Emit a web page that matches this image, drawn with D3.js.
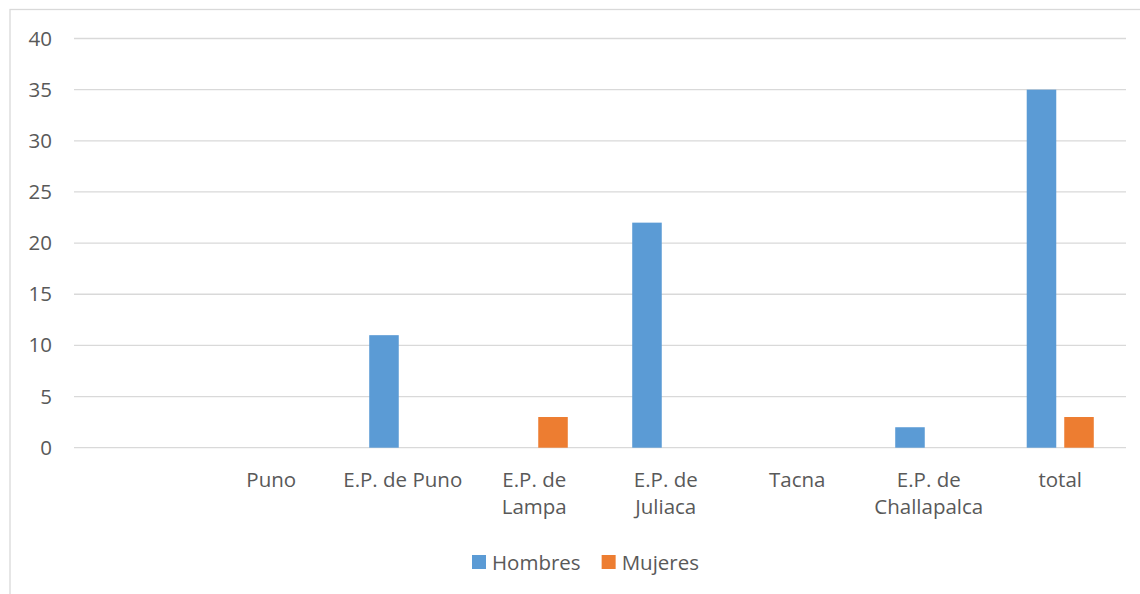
<!DOCTYPE html>
<html>
<head>
<meta charset="utf-8">
<script src="https://cdn.jsdelivr.net/npm/d3@7"></script>
<style>
  html, body { margin: 0; padding: 0; background: #fff; }
  svg { display: block; }
  text { font-family: "Open Sans", "Noto Sans", sans-serif; fill: #595959; }
</style>
</head>
<body>
<svg id="chart" width="1140" height="594"></svg>
<script>
const categories = ["", "Puno", "E.P. de Puno", "E.P. de Lampa", "E.P. de Juliaca", "Tacna", "E.P. de Challapalca", "total"];
const seriesNames = ["Hombres", "Mujeres"];
const hombres = [null, null, 11, null, 22, null, 2, 35];
const mujeres = [null, null, null, 3, null, null, null, 3];
const yTicks = [0, 5, 10, 15, 20, 25, 30, 35, 40];
const colors = ["#5b9bd5", "#ed7d31"];

const svg = d3.select("#chart");
const fontSize = 20.5;

// chart area border (clipped at right/bottom like the reference)
svg.append("rect")
  .attr("x", 10).attr("y", 9.5)
  .attr("width", 1200).attr("height", 700)
  .attr("fill", "none").attr("stroke", "#d9d9d9").attr("stroke-width", 1.3);

const plot = { left: 74, right: 1126, top: 38.5, bottom: 447.7 };

const x = d3.scaleBand().domain(d3.range(categories.length))
  .range([plot.left, plot.right]).paddingInner(0).paddingOuter(0);
const x1 = d3.scaleBand().domain(seriesNames)
  .range([x.bandwidth() * 0.245, x.bandwidth() * 0.755]).paddingInner(0.213).paddingOuter(0);
const y = d3.scaleLinear().domain([0, 40]).range([plot.bottom, plot.top]);

// gridlines
svg.append("g").selectAll("line").data(yTicks).join("line")
  .attr("x1", plot.left).attr("x2", plot.right)
  .attr("y1", d => y(d)).attr("y2", d => y(d))
  .attr("stroke", "#d9d9d9").attr("stroke-width", 1.3);

// y axis via d3.axisLeft
const yAxis = svg.append("g").attr("transform", `translate(${plot.left},0)`)
  .call(d3.axisLeft(y).tickValues(yTicks).tickSize(0).tickPadding(22));
yAxis.select(".domain").remove();
yAxis.selectAll("text").style("font-size", fontSize + "px")
  .style("font-family", '"Open Sans", sans-serif').attr("fill", "#595959");

// bars
const seriesData = [hombres, mujeres];
seriesData.forEach((vals, si) => {
  svg.append("g").selectAll("rect")
    .data(vals.map((v, i) => ({ i, v })).filter(d => d.v != null))
    .join("rect")
    .attr("x", d => x(d.i) + x1(seriesNames[si]))
    .attr("width", x1.bandwidth())
    .attr("y", d => y(d.v))
    .attr("height", d => y(0) - y(d.v))
    .attr("fill", colors[si]);
});

// x category labels with wrapping
const maxW = 124;
const xg = svg.append("g");
categories.forEach((c, i) => {
  if (!c) return;
  const cx = x(i) + x.bandwidth() / 2;
  const t = xg.append("text").attr("x", cx).attr("y", 486.5)
    .attr("text-anchor", "middle").style("font-size", fontSize + "px");
  const words = c.split(" ");
  let lines = [], cur = [];
  const probe = t.append("tspan");
  words.forEach(w => {
    const test = cur.concat([w]).join(" ");
    probe.text(test);
    if (probe.node().getComputedTextLength() > maxW && cur.length) {
      lines.push(cur.join(" "));
      cur = [w];
    } else cur.push(w);
  });
  lines.push(cur.join(" "));
  probe.remove();
  lines.forEach((ln, k) => {
    t.append("tspan").attr("x", cx).attr("y", 486.5 + k * 27).text(ln);
  });
});

// legend
const lg = svg.append("g");
let lx = 472;
seriesNames.forEach((n, i) => {
  lg.append("rect").attr("x", lx).attr("y", 555).attr("width", 14).attr("height", 14).attr("fill", colors[i]);
  const t = lg.append("text").attr("x", lx + 20).attr("y", 569.5)
    .style("font-size", fontSize + "px").text(n);
  lx = lx + 20 + t.node().getComputedTextLength() + 21;
});
</script>
</body>
</html>
